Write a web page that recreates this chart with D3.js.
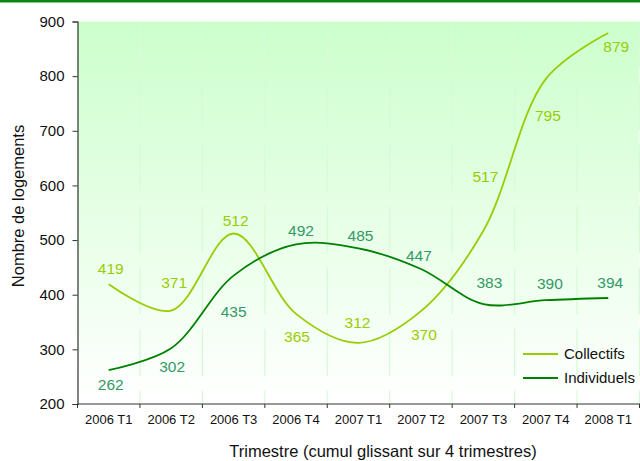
<!DOCTYPE html>
<html><head><meta charset="utf-8">
<script src="https://cdn.jsdelivr.net/npm/d3@7"></script>
<style>
body{margin:0;background:#fff}
svg{display:block;font-family:"Liberation Sans",Arial,Helvetica,sans-serif}
</style>
</head><body>
<svg id="chart" width="640" height="461"></svg>
<script>
// ---- data ----
const categories = ["2006 T1","2006 T2","2006 T3","2006 T4","2007 T1","2007 T2","2007 T3","2007 T4","2008 T1"];
const collectifs = [419,371,512,365,312,370,517,795,879];
const individuels = [262,302,435,492,485,447,383,390,394];
const yTicks = [200,300,400,500,600,700,800,900];
const seriesNames = ["Collectifs","Individuels"];
const yTitle = "Nombre de logements";
const xTitle = "Trimestre (cumul glissant sur 4 trimestres)";

// ---- label placement (pixel offsets from each point) ----
const collectifsLabelOffsets = [[2,-16],[3,-28],[2,-13],[1,23],[-1,-20],[3,23],[2,-54],[2,37],[8,14]];
const individuelsLabelOffsets = [[2,14],[1,18],[0,36],[5,-14],[2,-13],[-2,-13],[6,-21],[4,-17],[2,-15]];

(function(){
// ---- layout / style ----
const pLeft = 77.5, pRight = 639.5, pTop = 21.5, pBottom = 404;
const colColl = "#99cc00", colIndLine = "#008000", colIndLab = "#339966";

const svg = d3.select("#chart");
const defs = svg.append("defs");
const grad = defs.append("linearGradient").attr("id","bg").attr("x1",0).attr("y1",0).attr("x2",0).attr("y2",1);
grad.append("stop").attr("offset","0%").attr("stop-color","#ccffcc");
grad.append("stop").attr("offset","100%").attr("stop-color","#ffffff");

// top border band
svg.append("rect").attr("x",0).attr("y",0).attr("width",640).attr("height",2.5).attr("fill","#0f870f");

const x = d3.scaleBand().domain(categories).range([pLeft,pRight]).paddingInner(0).paddingOuter(0);
const y = d3.scaleLinear().domain([200,900]).range([pBottom,pTop]);
const cx = c => x(c) + x.bandwidth()/2;

// plot background
svg.append("rect").attr("x",pLeft).attr("y",pTop).attr("width",pRight-pLeft).attr("height",pBottom-pTop).attr("fill","url(#bg)");

// vertical gridlines at category boundaries
const boundaries = d3.range(categories.length+1).map(i=>pLeft + i*x.bandwidth());
svg.append("g").selectAll("line").data(boundaries.slice(1)).join("line")
  .attr("x1",d=>d).attr("x2",d=>d)
  .attr("y1",pTop).attr("y2",pBottom)
  .attr("stroke","#d6fad6").attr("stroke-width",1.2)
  .attr("stroke-dasharray","47,14.5");

// y axis
const yAxis = d3.axisLeft(y).tickValues(yTicks).tickSize(5).tickPadding(8).tickFormat(d3.format("d"));
const gy = svg.append("g").attr("transform",`translate(${pLeft},0)`).call(yAxis);
gy.attr("font-family",null).attr("font-size",null);
gy.select(".domain").attr("stroke","#333").attr("stroke-width",1.2);
gy.selectAll(".tick line").attr("stroke","#333");
gy.selectAll("text").attr("font-size","15px").attr("fill","#111");

// x axis
svg.append("line").attr("x1",pLeft).attr("x2",640).attr("y1",pBottom).attr("y2",pBottom).attr("stroke","#333").attr("stroke-width",1.2);
svg.append("g").selectAll("line").data(boundaries).join("line")
  .attr("x1",d=>d).attr("x2",d=>d).attr("y1",pBottom).attr("y2",pBottom+4).attr("stroke","#333");
svg.append("g").selectAll("text").data(categories).join("text")
  .attr("x",d=>cx(d)).attr("y",424)
  .attr("text-anchor","middle").attr("font-size","13px").attr("fill","#111")
  .text(d=>d);

// axis titles
svg.append("text").attr("transform","translate(24,206) rotate(-90)")
  .attr("text-anchor","middle").attr("font-size","16.5px").attr("fill","#111").text(yTitle);
svg.append("text").attr("x",383).attr("y",457)
  .attr("text-anchor","middle").attr("font-size","16.5px").attr("fill","#111").text(xTitle);

// lines
const line = d3.line().x((d,i)=>cx(categories[i])).y(d=>y(d)).curve(d3.curveCatmullRom.alpha(0.5));
svg.append("path").datum(collectifs).attr("d",line).attr("fill","none").attr("stroke",colColl).attr("stroke-width",1.8);
svg.append("path").datum(individuels).attr("d",line).attr("fill","none").attr("stroke",colIndLine).attr("stroke-width",1.8);

// data labels
function labels(vals, offs, color){
  svg.append("g").selectAll("text").data(vals).join("text")
    .attr("x",(d,i)=>cx(categories[i]) + offs[i][0])
    .attr("y",(d,i)=>y(d) + offs[i][1])
    .attr("dy","0.35em").attr("text-anchor","middle")
    .attr("font-size","15.5px").attr("fill",color).text(d=>d);
}
labels(collectifs, collectifsLabelOffsets, colColl);
labels(individuels, individuelsLabelOffsets, colIndLab);

// legend
const legend = svg.append("g");
const legColors = [colColl, colIndLine];
seriesNames.forEach((n,i)=>{
  const ly = 354 + i*24;
  legend.append("line").attr("x1",523).attr("x2",558).attr("y1",ly).attr("y2",ly).attr("stroke",legColors[i]).attr("stroke-width",1.8);
  legend.append("text").attr("x",564).attr("y",ly).attr("dy","0.35em").attr("font-size","15px").attr("fill","#111").text(n);
});
})();
</script>
</body></html>
